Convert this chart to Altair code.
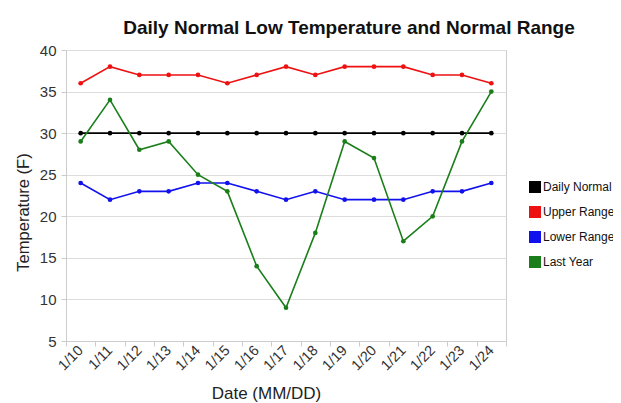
import altair as alt
import pandas as pd

dates = ["1/10", "1/11", "1/12", "1/13", "1/14", "1/15", "1/16", "1/17",
         "1/18", "1/19", "1/20", "1/21", "1/22", "1/23", "1/24"]
daily_normal = [30, 30, 30, 30, 30, 30, 30, 30, 30, 30, 30, 30, 30, 30, 30]
upper_range = [36, 38, 37, 37, 37, 36, 37, 38, 37, 38, 38, 38, 37, 37, 36]
lower_range = [24, 22, 23, 23, 24, 24, 23, 22, 23, 22, 22, 22, 23, 23, 24]
last_year = [29, 34, 28, 29, 25, 23, 14, 9, 18, 29, 27, 17, 20, 29, 35]

series_names = ["Daily Normal", "Upper Range", "Lower Range", "Last Year"]
series_colors = ["#000000", "#ee1111", "#1111ee", "#1a7f1a"]

rows = []
for name, vals in zip(series_names, [daily_normal, upper_range, lower_range, last_year]):
    for d, v in zip(dates, vals):
        rows.append({"date": d, "temp": v, "series": name})
df = pd.DataFrame(rows)

x_enc = alt.X("date:N", sort=dates,
              scale=alt.Scale(type="band", paddingInner=0, paddingOuter=0),
              axis=alt.Axis(title="Date (MM/DD)", labelAngle=-45, labelAlign="right",
                            labelBaseline="middle", labelFontSize=14.5, labelColor="#333333",
                            labelPadding=2, tickBand="extent", tickSize=5, tickColor="#cccccc",
                            domainColor="#cccccc", grid=False, titleFontSize=17,
                            titleFontWeight="normal", titleColor="#222222",
                            titleX=200, titleY=57, titleBaseline="alphabetic"))
y_enc = alt.Y("temp:Q", scale=alt.Scale(domain=[5, 40], nice=False, zero=False),
              axis=alt.Axis(title="Temperature (F)", values=[5, 10, 15, 20, 25, 30, 35, 40],
                            labelFontSize=15, labelColor="#333333", labelPadding=5,
                            tickSize=5, tickColor="#cccccc", domainColor="#cccccc",
                            gridColor="#dddddd", titleFontSize=16.5, titleFontWeight="normal",
                            titleColor="#222222", titlePadding=8, titleY=162))
color_enc = alt.Color("series:N", sort=series_names,
                      scale=alt.Scale(domain=series_names, range=series_colors),
                      legend=alt.Legend(title=None, orient="none", legendX=463, legendY=131,
                                        symbolType="square", symbolSize=144,
                                        symbolStrokeWidth=0, symbolOpacity=1,
                                        labelFontSize=12, labelColor="#111111",
                                        labelOffset=2, rowPadding=13))

base = alt.Chart(df).encode(x=x_enc, y=y_enc, color=color_enc)
lines = base.mark_line(strokeWidth=1.6)
points = base.mark_point(filled=True, size=22, opacity=1)

chart = (lines + points).properties(
    width=440, height=291,
    title=alt.TitleParams("Daily Normal Low Temperature and Normal Range",
                          fontSize=19, fontWeight="bold", color="#111111",
                          anchor="middle", dx=63, dy=28, offset=14, baseline="bottom"),
    autosize=alt.AutoSizeParams(type="none"),
    padding={"left": 58, "top": 42, "right": 107, "bottom": 62},
).configure(
    font="Liberation Sans",
    background="#ffffff",
).configure_view(stroke="#cccccc", strokeWidth=1)

chart.save("out.html", embed_options={"renderer": "svg", "actions": False})
